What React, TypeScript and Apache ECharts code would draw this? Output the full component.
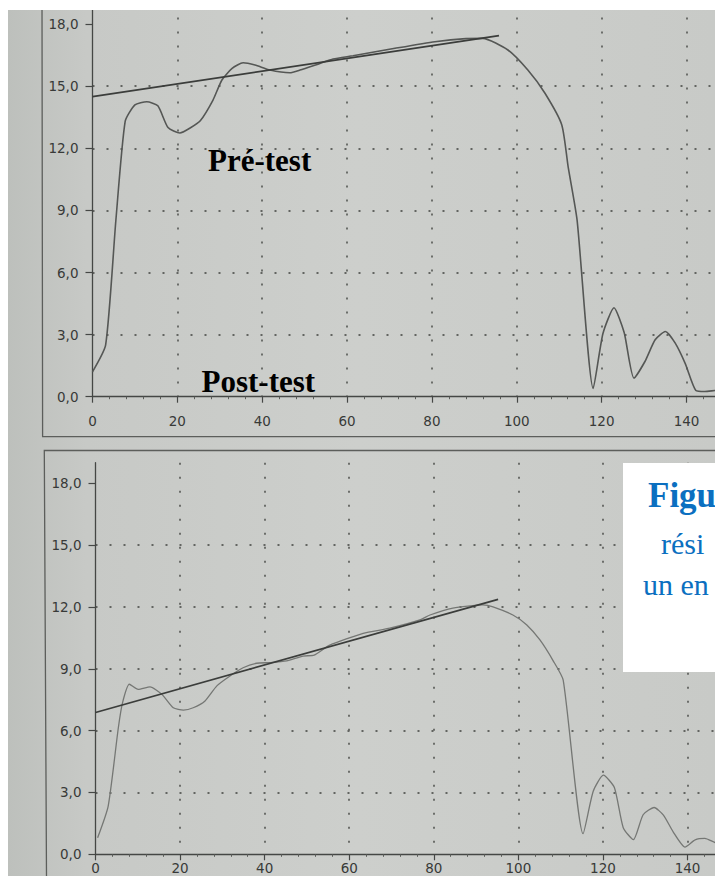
import React, { useEffect, useRef } from "react";
import * as echarts from "echarts";

// Pré-test trace: [position, value]
const preTestCurve: number[][] = [
  [0, 1.2], [3.1, 2.5], [5.5, 8.5], [7.7, 13.3], [10, 14.1], [12.8, 14.25],
  [15.4, 14.05], [17.8, 13.0], [20.6, 12.74], [23, 12.98], [25.4, 13.33],
  [28.4, 14.33], [30.5, 15.3], [32.9, 15.86], [35.5, 16.13], [38.3, 16.02],
  [41.8, 15.78], [46.5, 15.65], [48.9, 15.78], [53.6, 16.1], [56.7, 16.31],
  [61.4, 16.47], [71.3, 16.83], [80.7, 17.15], [88, 17.3], [92, 17.31],
  [97.9, 16.75], [102.6, 15.78], [106.6, 14.67], [110.6, 13.13], [112.1, 11.1],
  [114.2, 8.54], [118, 0.4], [120.3, 3.05], [122.9, 4.3], [125.3, 3.1],
  [127.6, 0.9], [130.2, 1.7], [132.6, 2.75], [135, 3.15], [137.3, 2.6],
  [139.7, 1.6], [142.2, 0.3], [144.3, 0.25], [146.7, 0.3], [150, 0.35],
];
const preTestTrend: number[][] = [[0, 14.5], [95.8, 17.44]];

// Post-test trace: [position, value]
const postTestCurve: number[][] = [
  [0.5, 0.8], [3, 2.34], [5.4, 6.14], [6.4, 7.36], [8, 8.25], [10.1, 8.0],
  [12.9, 8.12], [15.7, 7.76], [18.4, 7.11], [20.8, 7.0], [23.1, 7.11],
  [25.9, 7.44], [28.7, 8.17], [31.8, 8.65], [34.9, 9.05], [38.1, 9.27],
  [41.3, 9.3], [45.2, 9.38], [49.1, 9.62], [51.7, 9.66], [55.4, 10.15],
  [63.3, 10.72], [69.6, 10.97], [76.7, 11.37], [79.1, 11.61], [84.5, 11.94],
  [91.6, 12.1], [94, 12.01], [98.7, 11.61], [102, 11.13], [105.1, 10.4],
  [108.2, 9.4], [110.6, 8.45], [115.3, 1.0], [117.7, 3.06], [120.1, 3.84],
  [122.7, 3.24], [124.8, 1.29], [127.2, 0.71], [129.5, 1.92], [132.1, 2.27],
  [134.3, 1.9], [136.6, 1.09], [139.4, 0.35], [141.8, 0.7], [144.1, 0.77],
  [146.5, 0.57], [150, 0.4],
];
const postTestTrend: number[][] = [[0, 6.88], [95.2, 12.37]];

const yTickValues = [0, 3, 6, 9, 12, 15, 18];
const xLabelMax = 140;
const xRange = [0, 160];
const yRange = [0, 19];

const panelLabels = ["Pré-test", "Post-test"];
const captionLines = ["Figu", "rési", "un en"];

const axisColor = "#454745";
const gridDotColor = "#626461";
const labelFont = "DejaVu Sans";

const fmtY = (v: number) =>
  v % 3 === 0 ? v.toFixed(1).replace(".", ",") : "";
const fmtX = (v: number) => (v <= xLabelMax ? String(v) : "");

function makeX(gridIndex: number, margin: number) {
  return {
    type: "value",
    gridIndex,
    min: xRange[0],
    max: xRange[1],
    interval: 20,
    axisLine: { show: true, onZero: false, lineStyle: { color: axisColor, width: 1.3 } },
    axisTick: { show: true, length: 6, lineStyle: { color: axisColor, width: 1.2 } },
    minorTick: { show: true, splitNumber: 5, length: 2.5, lineStyle: { color: "#5b5d5a", width: 1 } },
    axisLabel: {
      margin,
      color: "#383a38",
      fontFamily: labelFont,
      fontSize: 13.5,
      lineHeight: 14,
      showMaxLabel: false,
      formatter: fmtX,
    },
    splitLine: {
      show: true,
      showMinLine: false,
      lineStyle: { type: [2, 12], color: gridDotColor, width: 1.8 },
    },
  };
}

function makeY(gridIndex: number) {
  return {
    type: "value",
    gridIndex,
    min: yRange[0],
    max: yRange[1],
    interval: 3,
    axisLine: { show: true, onZero: false, lineStyle: { color: axisColor, width: 1.3 } },
    axisTick: {
      show: true,
      length: 7,
      customValues: yTickValues,
      lineStyle: { color: axisColor, width: 1.2 },
    },
    minorTick: { show: false },
    axisLabel: {
      margin: 14,
      color: "#383a38",
      fontFamily: labelFont,
      fontSize: 13.5,
      customValues: yTickValues,
      formatter: fmtY,
    },
    splitLine: {
      show: true,
      showMinLine: false,
      showMaxLine: false,
      lineStyle: { type: [2, 12], color: gridDotColor, width: 1.8 },
    },
  };
}

export default function App() {
  const ref = useRef<HTMLDivElement>(null);

  useEffect(() => {
    if (!ref.current) return;
    const chart = echarts.init(ref.current, undefined, { renderer: "svg" });

    const paper = new echarts.graphic.LinearGradient(0, 0, 1, 0, [
      { offset: 0, color: "#bcbfbb" },
      { offset: 0.12, color: "#c7c9c6" },
      { offset: 0.5, color: "#cdcfcc" },
      { offset: 1, color: "#c8cac7" },
    ]);

    const blue = "#0b6fc0";

    chart.setOption({
      animation: false,
      graphic: [
        { type: "rect", z: -10, silent: true, shape: { x: 0, y: 0, width: 715, height: 876 }, style: { fill: paper } },
        {
          type: "polyline", z: 1, silent: true,
          shape: { points: [[42, 0], [42.6, 436.7], [715, 436.7]] },
          style: { stroke: "#5c5e5b", lineWidth: 1.3, fill: "none" },
        },
        {
          type: "polyline", z: 1, silent: true,
          shape: { points: [[715, 450.5], [44.3, 450.5], [46.5, 876]] },
          style: { stroke: "#5c5e5b", lineWidth: 1.3, fill: "none" },
        },
        {
          type: "text", z: 50, silent: true, x: 208, y: 160,
          style: {
            text: panelLabels[0], fill: "#000", font: "bold 31px 'Liberation Serif'",
            textAlign: "left", textVerticalAlign: "middle",
          },
        },
        {
          type: "text", z: 50, silent: true, x: 201.5, y: 381,
          style: {
            text: panelLabels[1], fill: "#000", font: "bold 31px 'Liberation Serif'",
            textAlign: "left", textVerticalAlign: "middle",
          },
        },
        { type: "rect", z: 100, silent: true, shape: { x: 0, y: 0, width: 715, height: 10 }, style: { fill: "#ffffff" } },
        { type: "rect", z: 100, silent: true, shape: { x: 0, y: 0, width: 8, height: 876 }, style: { fill: "#ffffff" } },
        { type: "rect", z: 100, silent: true, shape: { x: 623, y: 463, width: 100, height: 209 }, style: { fill: "#ffffff" } },
        {
          type: "text", z: 101, silent: true, x: 648, y: 495.5,
          style: { text: captionLines[0], fill: blue, font: "bold 35px 'Liberation Serif'", textAlign: "left", textVerticalAlign: "middle" },
        },
        {
          type: "text", z: 101, silent: true, x: 661, y: 543,
          style: { text: captionLines[1], fill: blue, font: "30px 'Liberation Serif'", textAlign: "left", textVerticalAlign: "middle" },
        },
        {
          type: "text", z: 101, silent: true, x: 643, y: 584,
          style: { text: captionLines[2], fill: blue, font: "30px 'Liberation Serif'", textAlign: "left", textVerticalAlign: "middle" },
        },
      ],
      grid: [
        { left: 92.5, width: 678.9, top: 3.4, height: 393.3, outerBoundsMode: "none", containLabel: false },
        { left: 95.5, width: 676.6, top: 462.7, height: 391.6, outerBoundsMode: "none", containLabel: false },
      ],
      xAxis: [makeX(0, 17), makeX(1, 7)],
      yAxis: [makeY(0), makeY(1)],
      series: [
        {
          name: panelLabels[0], type: "line", xAxisIndex: 0, yAxisIndex: 0,
          data: preTestCurve, showSymbol: false, smooth: 0.2, silent: true, z: 3,
          lineStyle: { color: "#555755", width: 1.6 },
        },
        {
          type: "line", xAxisIndex: 0, yAxisIndex: 0,
          data: preTestTrend, showSymbol: false, silent: true, z: 4,
          lineStyle: { color: "#3b3d3b", width: 1.7 },
        },
        {
          name: panelLabels[1], type: "line", xAxisIndex: 1, yAxisIndex: 1,
          data: postTestCurve, showSymbol: false, smooth: 0.2, silent: true, z: 3,
          lineStyle: { color: "#757774", width: 1.3 },
        },
        {
          type: "line", xAxisIndex: 1, yAxisIndex: 1,
          data: postTestTrend, showSymbol: false, silent: true, z: 4,
          lineStyle: { color: "#3b3d3b", width: 1.7 },
        },
      ],
    });

    return () => chart.dispose();
  }, []);

  return (
    <div
      ref={ref}
      style={{ position: "absolute", left: 0, top: 0, width: 715, height: 876 }}
    />
  );
}
